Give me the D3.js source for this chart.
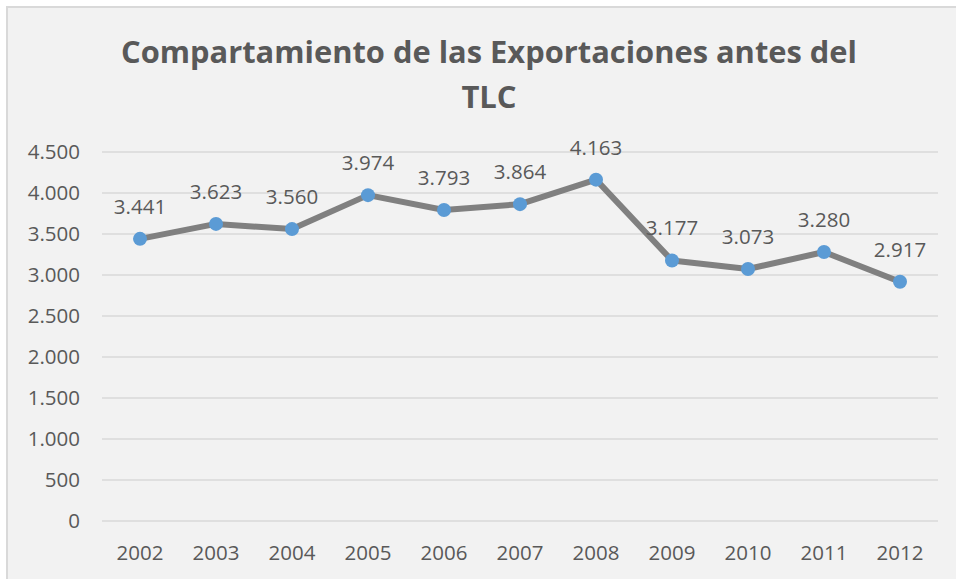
<!DOCTYPE html>
<html>
<head>
<meta charset="utf-8">
<script src="https://cdn.jsdelivr.net/npm/d3@7"></script>
<style>
  body { margin: 0; background: #ffffff; }
  text { font-family: "Open Sans", sans-serif; fill: #595959; }
</style>
</head>
<body>
<div id="chart"></div>
<script>
// data
const years = ["2002", "2003", "2004", "2005", "2006", "2007", "2008", "2009", "2010", "2011", "2012"];
const exportsValues = [3441, 3623, 3560, 3974, 3793, 3864, 4163, 3177, 3073, 3280, 2917];
const yTicks = [0, 500, 1000, 1500, 2000, 2500, 3000, 3500, 4000, 4500];
const titleLines = ["Compartamiento de las Exportaciones antes del", "TLC"];

const width = 956;
const height = 579;
const margin = { top: 152, right: 18, bottom: 58, left: 102 };

const svg = d3
  .select("#chart")
  .append("svg")
  .attr("width", width)
  .attr("height", height);

// chart frame
svg
  .append("rect")
  .attr("x", 7)
  .attr("y", 7)
  .attr("width", width + 20)
  .attr("height", height + 20)
  .attr("fill", "#f2f2f2")
  .attr("stroke", "#d9d9d9")
  .attr("stroke-width", 2);

// title
const title = svg.append("g").attr("class", "title");
title
  .selectAll("text")
  .data(titleLines)
  .enter()
  .append("text")
  .attr("x", 489)
  .attr("y", (d, i) => 63 + i * 45)
  .attr("text-anchor", "middle")
  .style("font-size", "31px")
  .style("font-weight", "bold")
  .each(function (d, i) {
    if (i === 0) {
      d3.select(this).attr("textLength", 736).attr("lengthAdjust", "spacingAndGlyphs");
    }
  })
  .text((d) => d);

// scales
const x = d3
  .scaleBand()
  .domain(years)
  .range([margin.left, width - margin.right]);

const y = d3
  .scaleLinear()
  .domain([0, 4500])
  .range([height - margin.bottom, margin.top]);

const fmt = (v) => d3.format(",")(v).replace(/,/g, ".");

// gridlines
svg
  .append("g")
  .attr("class", "grid")
  .selectAll("line")
  .data(yTicks)
  .enter()
  .append("line")
  .attr("x1", margin.left)
  .attr("x2", width - margin.right)
  .attr("y1", (d) => y(d))
  .attr("y2", (d) => y(d))
  .attr("stroke", "#d9d9d9")
  .attr("stroke-width", 1.5);

// y axis labels
svg
  .append("g")
  .attr("class", "y-labels")
  .selectAll("text")
  .data(yTicks)
  .enter()
  .append("text")
  .attr("x", 80)
  .attr("y", (d) => y(d))
  .attr("dy", "0.36em")
  .attr("text-anchor", "end")
  .style("font-size", "20.5px")
  .text((d) => fmt(d));

// x axis labels
svg
  .append("g")
  .attr("class", "x-labels")
  .selectAll("text")
  .data(years)
  .enter()
  .append("text")
  .attr("x", (d) => x(d) + x.bandwidth() / 2)
  .attr("y", 560)
  .attr("text-anchor", "middle")
  .style("font-size", "20.5px")
  .text((d) => d);

const points = years.map((yr, i) => ({ year: yr, value: exportsValues[i] }));

// line
const line = d3
  .line()
  .x((d) => x(d.year) + x.bandwidth() / 2)
  .y((d) => y(d.value));

svg
  .append("path")
  .datum(points)
  .attr("fill", "none")
  .attr("stroke", "#808080")
  .attr("stroke-width", 6)
  .attr("stroke-linejoin", "round")
  .attr("d", line);

// markers
svg
  .append("g")
  .attr("class", "markers")
  .selectAll("circle")
  .data(points)
  .enter()
  .append("circle")
  .attr("cx", (d) => x(d.year) + x.bandwidth() / 2)
  .attr("cy", (d) => y(d.value))
  .attr("r", 7)
  .attr("fill", "#5b9bd5");

// data labels
svg
  .append("g")
  .attr("class", "data-labels")
  .selectAll("text")
  .data(points)
  .enter()
  .append("text")
  .attr("x", (d) => x(d.year) + x.bandwidth() / 2)
  .attr("y", (d) => y(d.value) - 25)
  .attr("text-anchor", "middle")
  .style("font-size", "20.5px")
  .text((d) => fmt(d.value));
</script>
</body>
</html>
